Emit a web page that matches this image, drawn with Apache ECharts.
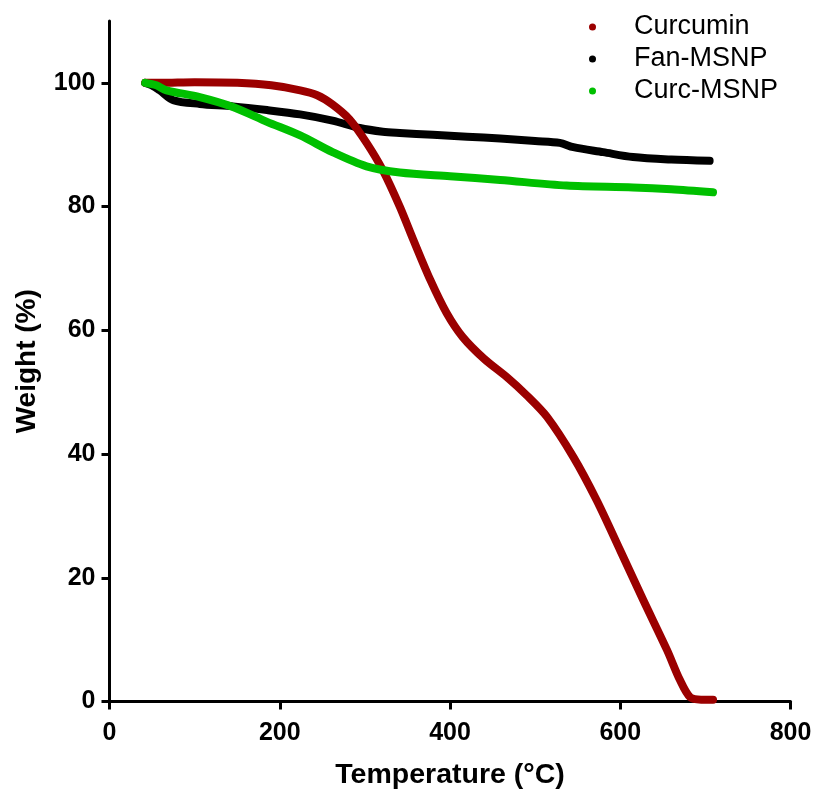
<!DOCTYPE html>
<html>
<head>
<meta charset="utf-8">
<script src="https://cdn.jsdelivr.net/npm/echarts@6/dist/echarts.min.js"></script>
<style>
  html, body { margin: 0; padding: 0; background: #fff; }
  #chart { width: 815px; height: 789px; }
</style>
</head>
<body>
<div id="chart"></div>
<script>
// TGA curves: temperature (°C) vs remaining weight (%)
const curcuminT = [42, 60, 100, 150, 190, 224, 244, 262, 282, 302, 321, 341, 357, 377, 396, 415, 440, 467, 490, 514, 545, 572, 600, 627, 655, 670, 682, 695, 709];
const curcuminW = [100, 100, 100.1, 100, 99.6, 98.8, 98, 96.5, 94.1, 90.3, 85.9, 80, 74.6, 68.1, 62.8, 58.9, 55.4, 52.4, 49.5, 46, 39.5, 32.6, 24.4, 16.4, 8.3, 3.5, 0.7, 0.3, 0.3];

const fanT = [42, 50, 59, 75, 106, 145, 185, 224, 262, 294, 321, 341, 380, 420, 459, 500, 529, 545, 580, 615, 660, 705];
const fanW = [100, 99.6, 98.8, 97.2, 96.6, 96.2, 95.6, 94.9, 93.9, 92.7, 92.1, 91.9, 91.6, 91.3, 91.0, 90.6, 90.3, 89.6, 88.8, 88.0, 87.6, 87.4];

const curcMsnpT = [42, 55, 67, 106, 145, 185, 224, 262, 302, 341, 400, 459, 537, 615, 660, 709];
const curcMsnpW = [100, 99.6, 98.8, 97.7, 96.1, 93.7, 91.5, 88.8, 86.5, 85.5, 84.9, 84.3, 83.4, 83.1, 82.8, 82.3];

const xTicks = [0, 200, 400, 600, 800];
const yTicks = [0, 20, 40, 60, 80, 100];

const seriesNames = ['Curcumin', 'Fan-MSNP', 'Curc-MSNP'];
const seriesColors = ['#9b0000', '#000000', '#00c000'];

function pairs(xs, ys) { return xs.map((x, i) => [x, ys[i]]); }

const chart = echarts.init(document.getElementById('chart'), null, { renderer: 'canvas' });

const axisFont = { fontFamily: 'Liberation Sans, Arial, sans-serif', fontWeight: 'bold', color: '#000' };

function lineSeries(name, data, color, z) {
  return {
    name, type: 'line', data, z,
    smooth: 0.3, showSymbol: false, symbol: 'circle', symbolSize: 7,
    itemStyle: { color },
    lineStyle: { color, width: 8, cap: 'round', join: 'round' },
    animation: false
  };
}

chart.setOption({
  animation: false,
  backgroundColor: '#fff',
  grid: { left: 109.5, right: 24.5, top: 21, bottom: 87.5, containLabel: false, outerBoundsMode: 'none' },
  legend: {
    orient: 'vertical',
    left: 584, top: 8,
    icon: 'circle', itemWidth: 7, itemHeight: 7, itemGap: 4,
    data: seriesNames,
    textStyle: { fontFamily: 'Liberation Sans, Arial, sans-serif', fontSize: 27, color: '#000', padding: [0, 0, 0, 33], lineHeight: 28 }
  },
  xAxis: {
    type: 'value', min: 0, max: 800, interval: 200,
    name: 'Temperature (°C)', nameLocation: 'middle', nameGap: 59,
    nameTextStyle: Object.assign({ fontSize: 28.5 }, axisFont),
    axisLine: { show: true, lineStyle: { color: '#000', width: 3 } },
    axisTick: { show: true, length: 8, lineStyle: { color: '#000', width: 3 }, customValues: xTicks },
    axisLabel: Object.assign({ fontSize: 25, margin: 19, customValues: xTicks }, axisFont),
    splitLine: { show: false }
  },
  yAxis: {
    type: 'value', min: 0, max: 110, interval: 20,
    name: 'Weight (%)', nameLocation: 'middle', nameGap: 68,
    nameTextStyle: Object.assign({ fontSize: 28 }, axisFont),
    axisLine: { show: true, lineStyle: { color: '#000', width: 3 } },
    axisTick: { show: true, length: 8, lineStyle: { color: '#000', width: 3 }, customValues: yTicks },
    axisLabel: Object.assign({ fontSize: 25, margin: 14, customValues: yTicks }, axisFont),
    splitLine: { show: false }
  },
  series: [
    lineSeries(seriesNames[0], pairs(curcuminT, curcuminW), seriesColors[0], 3),
    lineSeries(seriesNames[1], pairs(fanT, fanW), seriesColors[1], 2),
    lineSeries(seriesNames[2], pairs(curcMsnpT, curcMsnpW), seriesColors[2], 4)
  ]
});
</script>
</body>
</html>
